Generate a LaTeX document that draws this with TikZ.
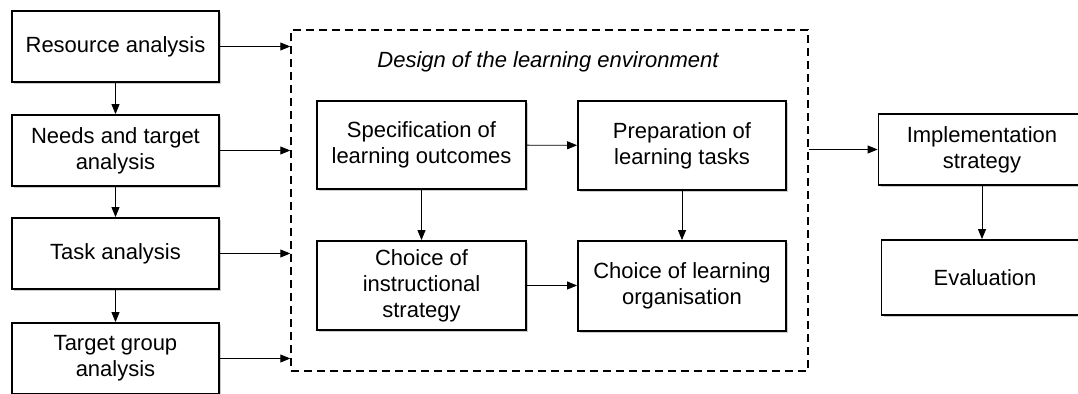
\documentclass[tikz,border=0pt]{standalone}
\usepackage{fontspec}
\setmainfont{Liberation Sans}
\usetikzlibrary{arrows.meta,shadows,positioning}

\begin{document}
\begin{tikzpicture}
[x=0.5pt,y=-0.5pt,
every node/.style={font=\fontsize{11}{13}\selectfont,align=center,inner sep=0pt},
stage/.style={draw,line width=0.9pt,fill=white,minimum width=103.5pt,minimum height=35.5pt,
  drop shadow={shadow xshift=1.2pt,shadow yshift=-1.2pt,fill=black!45,opacity=0.45}},
flow/.style={draw,line width=0.45pt,-{Triangle[length=5pt,width=4pt]}}]
\useasboundingbox (0,0) rectangle (1078,394);
% analysis column
\node[stage] (res) at (115.5,46.5) {Resource analysis};
\node[stage] (need) at (115.5,150.5) {Needs and target\\analysis};
\node[stage] (task) at (115.5,253.5) {Task analysis};
\node[stage] (tgt) at (115.5,358.5) {Target group\\analysis};
% design of the learning environment
\node[draw,dashed,dash pattern=on 4pt off 2.5pt,line width=0.7pt,minimum width=258.5pt,minimum height=170.5pt]
  (design) at (549.5,200.5) {};
\node (title) at (548,62) {\itshape Design of the learning environment};
\node[stage,minimum width=104.5pt,minimum height=44pt] (spec) at (421.5,145) {Specification of\\learning outcomes};
\node[stage,minimum width=104pt,minimum height=44.5pt] (prep) at (682,145.5) {Preparation of\\learning tasks};
\node[stage,minimum width=104.5pt,minimum height=44.5pt] (instr) at (421.5,285.5) {Choice of\\instructional\\strategy};
\node[stage,minimum width=104pt,minimum height=45pt] (org) at (682,286) {Choice of learning\\organisation};
% implementation
\node[stage] (impl) at (982,149.5) {Implementation\\strategy};
\node[stage,minimum height=37.5pt] (eval) at (985,277.5) {Evaluation};

\draw[flow] (res) -- (res -| design.west);
\draw[flow] (need) -- (need -| design.west);
\draw[flow] (task) -- (task -| design.west);
\draw[flow] (tgt) -- (tgt -| design.west);
\draw[flow] (res) -- (need);
\draw[flow] (need) -- (task);
\draw[flow] (task) -- (tgt);
\draw[flow] (spec) -- (prep);
\draw[flow] (spec) -- (spec |- instr.north);
\draw[flow] (prep) -- (prep |- org.north);
\draw[flow] (instr) -- (instr -| org.west);
\draw[flow] (design.east |- impl.west) -- (impl.west);
\draw[flow] (impl) -- (impl |- eval.north);
\end{tikzpicture}
\end{document}
